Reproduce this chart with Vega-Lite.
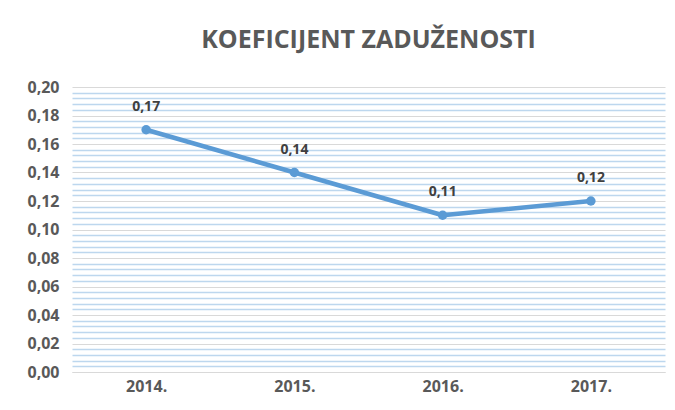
{
  "$schema": "https://vega.github.io/schema/vega-lite/v6.json",
  "width": 593,
  "height": 285,
  "autosize": {"type": "none"},
  "padding": {"left": 72, "top": 87, "right": 10, "bottom": 38},
  "background": "white",
  "config": {
    "view": {"stroke": null},
    "font": "Open Sans",
    "locale": {"number": {"decimal": ",", "thousands": ".", "grouping": [3], "currency": ["", " €"]}}
  },
  "title": {
    "text": "KOEFICIJENT ZADUŽENOSTI",
    "fontSize": 25,
    "fontWeight": "bold",
    "color": "#595959",
    "font": "Open Sans",
    "anchor": "middle",
    "offset": 26
  },
  "data": {
    "values": [
      {"year": "2014.", "value": 0.17},
      {"year": "2015.", "value": 0.14},
      {"year": "2016.", "value": 0.11},
      {"year": "2017.", "value": 0.12}
    ]
  },
  "encoding": {
    "x": {
      "field": "year",
      "type": "ordinal",
      "scale": {"paddingInner": 0, "paddingOuter": 0.5},
      "axis": {
        "title": null,
        "labelAngle": 0,
        "labelFont": "Open Sans",
        "labelFontSize": 16,
        "labelFontWeight": "bold",
        "labelColor": "#595959",
        "labelPadding": 6,
        "ticks": false,
        "domain": true,
        "domainColor": "#D9D9D9",
        "grid": false
      }
    },
    "y": {
      "field": "value",
      "type": "quantitative",
      "scale": {"domain": [0, 0.2], "nice": false},
      "axis": {
        "title": null,
        "values": [0, 0.004, 0.008, 0.012, 0.016, 0.02, 0.024, 0.028, 0.032, 0.036, 0.04, 0.044, 0.048, 0.052, 0.056, 0.06, 0.064, 0.068, 0.072, 0.076, 0.08, 0.084, 0.088, 0.092, 0.096, 0.1, 0.104, 0.108, 0.112, 0.116, 0.12, 0.124, 0.128, 0.132, 0.136, 0.14, 0.144, 0.148, 0.152, 0.156, 0.16, 0.164, 0.168, 0.172, 0.176, 0.18, 0.184, 0.188, 0.192, 0.196, 0.2],
        "labelExpr": "abs(datum.value*50 - round(datum.value*50)) < 0.001 ? replace(format(datum.value, '.2f'), '.', ',') : ''",
        "labelFont": "Open Sans",
        "labelFontSize": 16,
        "labelFontWeight": "bold",
        "labelColor": "#595959",
        "labelPadding": 13,
        "ticks": false,
        "domain": false,
        "grid": true,
        "gridColor": {
          "condition": {"test": "abs(datum.value*50 - round(datum.value*50)) < 0.001", "value": "#D9D9D9"},
          "value": "#BDD7EE"
        },
        "gridWidth": {
          "condition": {"test": "abs(datum.value*50 - round(datum.value*50)) < 0.001", "value": 1},
          "value": 1.6
        }
      }
    }
  },
  "layer": [
    {
      "mark": {"type": "line", "color": "#5B9BD5", "strokeWidth": 4.5, "strokeCap": "round", "strokeJoin": "round"}
    },
    {
      "mark": {"type": "point", "filled": true, "color": "#5B9BD5", "size": 90, "opacity": 1}
    },
    {
      "mark": {"type": "text", "dy": -23, "fontSize": 14, "fontWeight": "bold", "color": "#404040", "font": "Open Sans"},
      "encoding": {
        "text": {"field": "value", "type": "quantitative", "format": ".2f"}
      }
    }
  ]
}
